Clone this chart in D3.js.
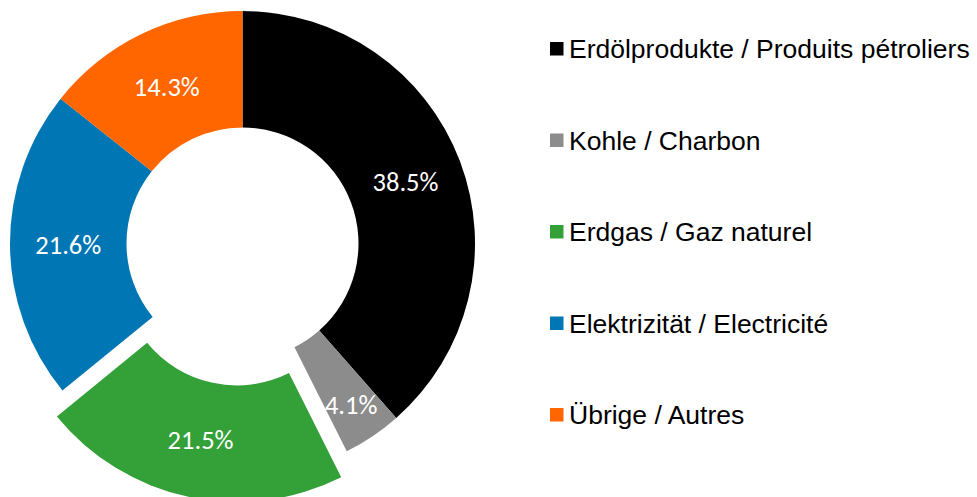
<!DOCTYPE html>
<html>
<head>
<meta charset="utf-8">
<script src="https://cdn.jsdelivr.net/npm/d3@7"></script>
<style>
  body { margin: 0; background: #fff; }
  svg { display: block; }
</style>
</head>
<body>
<svg id="chart"></svg>
<script>
// energy consumption shares
const categories = [
  'Erdölprodukte / Produits pétroliers',
  'Kohle / Charbon',
  'Erdgas / Gaz naturel',
  'Elektrizität / Electricité',
  'Übrige / Autres'
];
const shares = [38.5, 4.1, 21.5, 21.6, 14.3];
const colors = ['#000000', '#8c8c8c', '#34a038', '#0076b4', '#ff6600'];
const exploded = [0, 0, 1, 0, 0];

const width = 977;
const height = 497;
const cx = 242.5;
const cy = 243.5;
const outerR = 232.5;
const innerR = 116;
const explodeDist = 26.5;

const svg = d3.select('#chart').attr('width', width).attr('height', height);

const rows = categories.map(function (c, i) {
  return { name: c, value: shares[i], color: colors[i], explode: exploded[i] };
});

const pie = d3.pie().sort(null).value(function (d) { return d.value; });
const arc = d3.arc().innerRadius(innerR).outerRadius(outerR);
const midR = (innerR + outerR) / 2;

const g = svg.append('g').attr('transform', 'translate(' + cx + ',' + cy + ')');

const slices = g.selectAll('g.slice')
  .data(pie(rows))
  .enter()
  .append('g')
  .attr('class', 'slice')
  .attr('transform', function (d) {
    if (!d.data.explode) return null;
    const a = (d.startAngle + d.endAngle) / 2;
    return 'translate(' + (Math.sin(a) * explodeDist) + ',' + (-Math.cos(a) * explodeDist) + ')';
  });

slices.append('path')
  .attr('d', arc)
  .attr('fill', function (d) { return d.data.color; });

// thin slices get their label pushed outwards a bit, like excel does
slices.append('text')
  .attr('transform', function (d) {
    const r = d.data.value < 5 ? midR + 20 : midR;
    const c = d3.arc().innerRadius(r).outerRadius(r).centroid(d);
    return 'translate(' + c + ')';
  })
  .attr('text-anchor', 'middle')
  .attr('dy', '0.35em')
  .style('font-family', 'Carlito, Lato, "Open Sans", sans-serif')
  .style('font-size', '26.5px')
  .style('fill', '#fff')
  .text(function (d) { return d3.format('.1f')(d.data.value) + '%'; });

// legend
const legendY = d3.scalePoint()
  .domain(categories)
  .range([49, 415]);

const legend = svg.append('g')
  .selectAll('g')
  .data(rows)
  .enter()
  .append('g')
  .attr('transform', function (d) { return 'translate(550,' + legendY(d.name) + ')'; });

legend.append('rect')
  .attr('x', 0)
  .attr('y', -7)
  .attr('width', 13.5)
  .attr('height', 13.5)
  .attr('fill', function (d) { return d.color; });

legend.append('text')
  .attr('x', 19)
  .attr('dy', '0.35em')
  .style('font-family', '"Liberation Sans", Arial, sans-serif')
  .style('font-size', '26.5px')
  .style('fill', '#000')
  .text(function (d) { return d.name; });
</script>
</body>
</html>
